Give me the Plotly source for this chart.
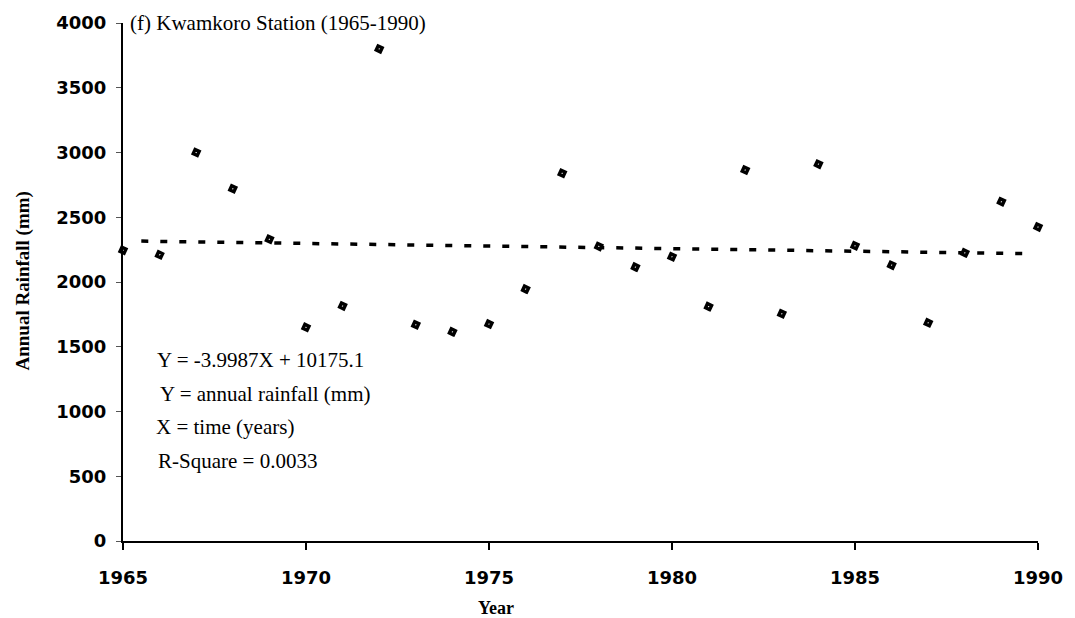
import plotly.graph_objects as go

years = [1965, 1966, 1967, 1968, 1969, 1970, 1971, 1972, 1973, 1974, 1975, 1976, 1977,
         1978, 1979, 1980, 1981, 1982, 1983, 1984, 1985, 1986, 1987, 1988, 1989, 1990]
rainfall = [2245, 2210, 3000, 2720, 2330, 1650, 1815, 3800, 1670, 1615, 1675, 1945, 2840,
            2275, 2115, 2195, 1810, 2865, 1755, 2910, 2280, 2130, 1685, 2225, 2620, 2425]

slope = -3.9987
intercept = 10175.1
trend_x = [1965.5, 1989.7]
trend_y = [slope * x + intercept for x in trend_x]

x_ticks = [1965, 1970, 1975, 1980, 1985, 1990]
y_ticks = [0, 500, 1000, 1500, 2000, 2500, 3000, 3500, 4000]

eq_lines = ["Y = -3.9987X + 10175.1", "Y = annual rainfall (mm)", "X = time (years)", "R-Square = 0.0033"]

fig = go.Figure()
fig.add_trace(go.Scatter(x=trend_x, y=trend_y, mode="lines",
                         line=dict(color="black", width=3.5, dash="7px,12px"),
                         showlegend=False, hoverinfo="skip"))
fig.add_trace(go.Scatter(x=years, y=rainfall, mode="markers",
                         marker=dict(symbol="square", size=4.5, angle=25, color="white",
                                     line=dict(color="black", width=3.4)),
                         cliponaxis=False, showlegend=False))

tick_font = dict(family="DejaVu Sans", size=18, color="black", weight="bold")
serif = "Liberation Serif"

fig.update_layout(
    width=1075, height=618,
    margin=dict(l=123, r=35, t=22, b=77),
    paper_bgcolor="white", plot_bgcolor="white",
    xaxis=dict(range=[1965, 1990], tickvals=x_ticks, ticktext=[str(v) for v in x_ticks],
               showgrid=False, zeroline=False, showline=True, linecolor="black", linewidth=2,
               ticks="outside", ticklen=7, tickwidth=1.5, tickcolor="black",
               tickfont=tick_font, ticklabelstandoff=12),
    yaxis=dict(range=[0, 4000], tickvals=y_ticks, ticktext=[str(v) for v in y_ticks],
               showgrid=False, zeroline=False, showline=True, linecolor="black", linewidth=2,
               ticks="outside", ticklen=5, tickwidth=1.2, tickcolor="#555",
               tickfont=tick_font, ticklabelstandoff=6),
)

annotations = [
    dict(text="(f) Kwamkoro Station (1965-1990)", xref="paper", yref="paper", x=0.0055, y=1.0,
         xanchor="left", yanchor="middle", showarrow=False,
         font=dict(family=serif, size=21, color="black")),
    dict(text="<b>Annual Rainfall (mm)</b>", xref="paper", yref="paper", x=-0.109, y=0.5014,
         xanchor="center", yanchor="middle", textangle=-90, showarrow=False,
         font=dict(family=serif, size=19, color="black")),
    dict(text="<b>Year</b>", xref="paper", yref="paper", x=(497 - 123) / 917, y=(541.5 - 609) / 519.5,
         xanchor="center", yanchor="middle", showarrow=False,
         font=dict(family=serif, size=18, color="black")),
]
eq_x = [155, 158, 154, 156]
eq_y = [360, 394, 427, 461]
for txt, px, py in zip(eq_lines, eq_x, eq_y):
    annotations.append(dict(text=txt, xref="paper", yref="paper",
                            x=(px - 123) / 917, y=(541.5 - py) / 519.5,
                            xanchor="left", yanchor="middle", showarrow=False,
                            font=dict(family=serif, size=21, color="black")))
fig.update_layout(annotations=annotations)

fig.write_html("out.html")
